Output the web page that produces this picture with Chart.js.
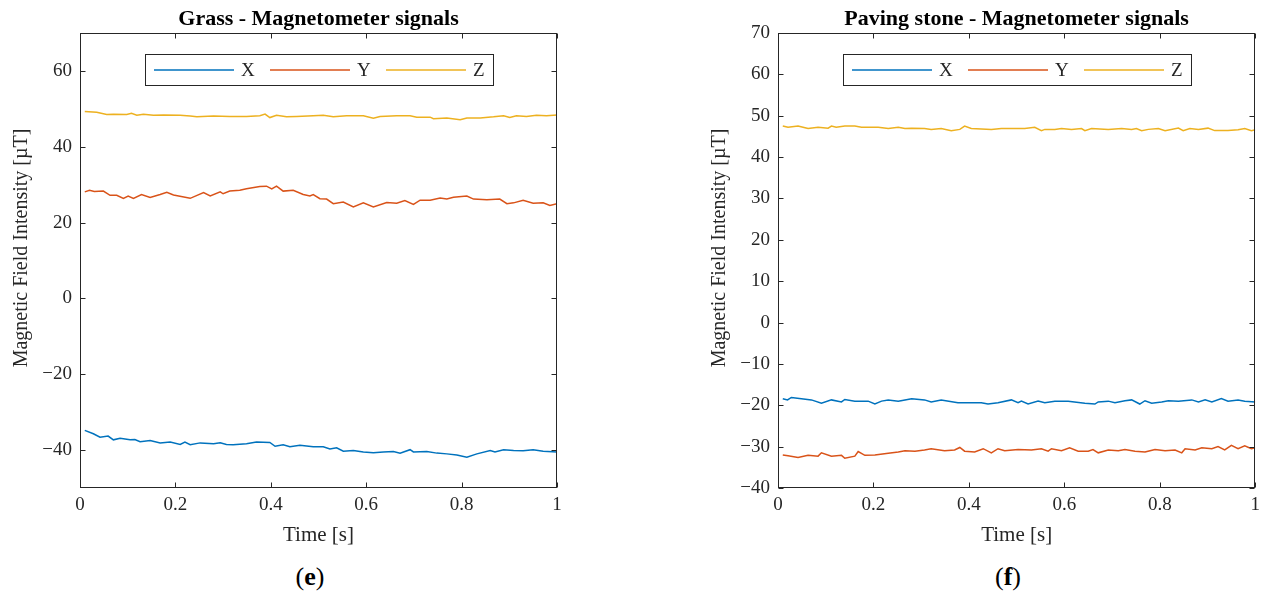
<!DOCTYPE html>
<html>
<head>
<meta charset="utf-8">
<script src="https://cdn.jsdelivr.net/npm/chart.js@4.4.1/dist/chart.umd.min.js"></script>
<style>
html, body { margin: 0; padding: 0; background: #fff; }
#wrap { position: relative; width: 1262px; height: 595px; overflow: hidden; }
.box { position: absolute; top: 0; height: 560px; }
.cap { position: absolute; top: 562px; width: 120px; text-align: center; font: 26px "Liberation Serif", serif; color: #000; }
</style>
</head>
<body>
<div id="wrap">
  <div class="box" style="left:0;width:640px"><canvas id="grass" width="640" height="560"></canvas></div>
  <div class="box" style="left:698px;width:568px"><canvas id="paving" width="568" height="560"></canvas></div>
  <div class="cap" style="left:250px">(<b>e</b>)</div>
  <div class="cap" style="left:948px">(<b>f</b>)</div>
</div>
<script>
// tick values
const timeTicks = [0, 0.2, 0.4, 0.6, 0.8, 1];
const grassTicks = [-40, -20, 0, 20, 40, 60];
const pavingTicks = [-40, -30, -20, -10, 0, 10, 20, 30, 40, 50, 60, 70];

// Grass
const grassXTime = [0.01,0.028,0.042,0.059,0.070,0.084,0.105,0.115,0.126,0.147,0.168,0.189,0.210,0.220,0.231,0.252,0.280,0.294,0.307,0.321,0.349,0.370,0.398,0.409,0.426,0.440,0.461,0.489,0.510,0.524,0.538,0.552,0.573,0.594,0.615,0.636,0.657,0.671,0.692,0.699,0.727,0.748,0.769,0.790,0.811,0.832,0.860,0.870,0.888,0.909,0.929,0.950,0.971,1.0];
const grassX = [-34.8,-35.7,-36.6,-36.3,-37.3,-36.9,-37.3,-37.2,-37.8,-37.5,-38.1,-37.9,-38.5,-37.9,-38.6,-38.1,-38.3,-38.1,-38.5,-38.6,-38.3,-37.9,-38.0,-39.0,-38.6,-39.1,-38.7,-39.1,-39.1,-39.7,-39.4,-40.3,-40.1,-40.5,-40.7,-40.5,-40.4,-40.8,-39.9,-40.5,-40.4,-40.8,-41.0,-41.3,-41.9,-41.0,-40.1,-40.5,-39.9,-40.1,-40.2,-39.9,-40.3,-40.5];

const grassYTime = [0.01,0.02,0.03,0.049,0.063,0.077,0.091,0.101,0.112,0.129,0.147,0.168,0.182,0.196,0.231,0.259,0.273,0.294,0.300,0.314,0.335,0.349,0.377,0.391,0.402,0.412,0.426,0.447,0.468,0.482,0.489,0.503,0.517,0.531,0.552,0.573,0.594,0.615,0.643,0.664,0.681,0.699,0.713,0.734,0.755,0.769,0.783,0.811,0.825,0.853,0.880,0.895,0.909,0.929,0.950,0.971,0.985,1.0];
const grassY = [28.1,28.5,28.2,28.3,27.2,27.2,26.4,27.0,26.4,27.4,26.6,27.4,28.0,27.3,26.4,27.9,27.0,28.1,27.6,28.3,28.5,28.9,29.5,29.6,28.9,29.6,28.3,28.5,27.4,27.0,27.4,26.3,26.2,25.0,25.4,24.1,25.2,24.1,25.3,25.1,25.8,24.8,25.9,25.9,26.5,26.2,26.7,27.0,26.2,26.0,26.2,25.0,25.2,25.9,25.1,25.2,24.5,25.0];

const grassZTime = [0.01,0.035,0.056,0.070,0.098,0.108,0.119,0.133,0.154,0.175,0.210,0.231,0.245,0.280,0.314,0.349,0.377,0.388,0.398,0.412,0.433,0.454,0.489,0.510,0.531,0.559,0.594,0.615,0.629,0.664,0.692,0.706,0.734,0.741,0.769,0.797,0.811,0.839,0.867,0.888,0.901,0.915,0.936,0.957,0.978,1.0];
const grassZ = [49.3,49.1,48.5,48.6,48.5,48.8,48.3,48.6,48.3,48.4,48.3,48.1,47.9,48.1,48.0,48.0,48.2,48.6,47.7,48.3,47.9,48.0,48.2,48.3,47.9,48.2,48.2,47.5,48.0,48.2,48.2,47.8,47.8,47.4,47.6,47.1,47.6,47.6,47.9,48.2,47.7,48.2,48.0,48.3,48.2,48.4];

// Paving stone
const pavingXTime = [0.01,0.02,0.028,0.049,0.070,0.091,0.112,0.133,0.140,0.161,0.189,0.203,0.217,0.231,0.252,0.266,0.280,0.307,0.321,0.342,0.377,0.405,0.426,0.440,0.461,0.489,0.503,0.510,0.524,0.545,0.559,0.580,0.608,0.643,0.664,0.671,0.692,0.706,0.727,0.741,0.758,0.769,0.783,0.804,0.818,0.839,0.867,0.881,0.895,0.909,0.929,0.943,0.964,0.978,1.0];
const pavingX = [-18.4,-18.7,-18.1,-18.4,-18.7,-19.5,-18.7,-19.2,-18.6,-19.0,-19.0,-19.7,-19.0,-18.7,-19.0,-18.7,-18.4,-18.7,-19.2,-18.7,-19.4,-19.4,-19.4,-19.7,-19.4,-18.7,-19.4,-19.0,-19.7,-19.0,-19.4,-19.0,-19.0,-19.5,-19.7,-19.2,-19.0,-19.4,-18.9,-18.7,-19.7,-18.9,-19.5,-19.2,-18.9,-19.0,-18.7,-19.2,-18.7,-19.2,-18.4,-19.0,-18.7,-19.0,-19.2];

const pavingYTime = [0.01,0.021,0.042,0.063,0.084,0.091,0.112,0.133,0.140,0.161,0.168,0.182,0.203,0.231,0.252,0.266,0.287,0.307,0.321,0.349,0.370,0.381,0.391,0.412,0.430,0.447,0.461,0.475,0.503,0.531,0.552,0.566,0.573,0.594,0.611,0.629,0.650,0.660,0.671,0.692,0.713,0.727,0.748,0.769,0.790,0.811,0.832,0.846,0.853,0.874,0.888,0.909,0.922,0.936,0.950,0.964,0.978,0.992,1.0];
const pavingY = [-32.0,-32.2,-32.6,-32.1,-32.3,-31.5,-32.3,-32.1,-32.8,-32.3,-31.2,-32.1,-32.0,-31.6,-31.3,-31.0,-31.1,-30.8,-30.5,-31.0,-30.8,-30.2,-31.1,-31.3,-30.5,-31.5,-30.5,-31.0,-30.7,-30.8,-30.5,-31.1,-30.5,-31.0,-30.3,-31.1,-31.1,-30.7,-31.5,-30.8,-31.0,-30.7,-31.1,-31.3,-30.7,-31.0,-30.8,-31.5,-30.5,-30.8,-30.3,-30.5,-30.0,-30.8,-29.7,-30.5,-29.8,-30.5,-30.3];

const pavingZTime = [0.01,0.021,0.042,0.063,0.084,0.105,0.112,0.122,0.140,0.161,0.175,0.210,0.231,0.252,0.266,0.280,0.307,0.321,0.342,0.363,0.381,0.391,0.405,0.447,0.468,0.517,0.538,0.552,0.559,0.580,0.594,0.615,0.636,0.643,0.657,0.692,0.720,0.741,0.751,0.762,0.776,0.797,0.811,0.839,0.849,0.863,0.881,0.901,0.915,0.943,0.964,0.978,0.992,1.0];
const pavingZ = [47.5,47.2,47.5,46.9,47.2,47.0,47.5,47.2,47.5,47.5,47.2,47.2,46.9,47.2,46.9,47.0,46.9,46.7,46.9,46.4,46.7,47.5,46.9,46.7,46.9,46.9,47.2,46.4,46.7,46.7,46.9,46.7,46.9,46.4,46.9,46.7,46.9,46.7,46.9,46.4,46.7,46.9,46.4,47.0,46.4,46.9,46.7,47.0,46.4,46.4,46.6,46.9,46.4,46.6];

const seriesNames = ["X", "Y", "Z"];
const seriesColors = ["#0072BD", "#D95319", "#EDB120"];

const axisColor = "#262626";
const serif = "'Liberation Serif', 'Times New Roman', serif";

function pts(t, v) {
  return t.map((x, i) => ({ x: x, y: v[i] }));
}

// frame, inward ticks and boxed legend (MATLAB look)
const matlabAxes = {
  id: "matlabAxes",
  afterDatasetsDraw(chart) {
    const ctx = chart.ctx;
    const a = chart.chartArea;
    const xs = chart.scales.x, ys = chart.scales.y;
    const L = Math.round(a.left) + 0.5, R = Math.round(a.right) - 0.5;
    const T = Math.round(a.top) + 0.5, B = Math.round(a.bottom) - 0.5;
    ctx.save();
    ctx.strokeStyle = axisColor;
    ctx.lineWidth = 1;
    ctx.strokeRect(L, T, R - L, B - T);
    ctx.beginPath();
    xs.ticks.forEach(tk => {
      const px = Math.round(xs.getPixelForValue(tk.value)) + 0.5;
      ctx.moveTo(px, B); ctx.lineTo(px, B - 5);
      ctx.moveTo(px, T); ctx.lineTo(px, T + 5);
    });
    ys.ticks.forEach(tk => {
      const py = Math.round(ys.getPixelForValue(tk.value)) + 0.5;
      ctx.moveTo(L, py); ctx.lineTo(L + 5, py);
      ctx.moveTo(R, py); ctx.lineTo(R - 5, py);
    });
    ctx.stroke();

    // legend
    const bx = Math.round(a.left) + 65.5, by = Math.round(a.top) + 21.5;
    ctx.fillStyle = "#fff";
    ctx.fillRect(bx, by, 348, 31);
    ctx.strokeStyle = axisColor;
    ctx.strokeRect(bx, by, 348, 31);
    const cy = by + 15.5;
    ctx.font = "19px " + serif;
    ctx.textBaseline = "middle";
    chart.data.datasets.forEach((ds, i) => {
      const x0 = a.left + 74 + i * 116;
      ctx.strokeStyle = ds.borderColor;
      ctx.lineWidth = 1.5;
      ctx.beginPath();
      ctx.moveTo(x0, cy); ctx.lineTo(x0 + 80, cy);
      ctx.stroke();
      ctx.fillStyle = axisColor;
      ctx.fillText(ds.label, x0 + 87, cy + 1);
    });
    ctx.restore();
  }
};

function makeChart(id, title, series, yMin, yMax, yTicks, padRight) {
  return new Chart(document.getElementById(id), {
    type: "line",
    data: {
      datasets: series.map((s, i) => ({
        label: seriesNames[i],
        data: s,
        borderColor: seriesColors[i],
        borderWidth: 1.5,
        pointRadius: 0,
        fill: false,
        tension: 0
      }))
    },
    options: {
      responsive: false,
      animation: false,
      layout: { padding: { left: 0, right: padRight, top: 0, bottom: 0 } },
      plugins: {
        legend: { display: false },
        tooltip: { enabled: false },
        title: {
          display: true,
          fullSize: false,
          text: title,
          color: "#000",
          font: { family: serif, size: 22, weight: "bold" },
          padding: { top: 6, bottom: 0.6 }
        }
      },
      scales: {
        x: {
          type: "linear",
          min: 0, max: 1,
          afterBuildTicks: s => { s.ticks = timeTicks.map(v => ({ value: v })); },
          afterFit: s => { s.height = 72; },
          grid: { display: false, drawTicks: false },
          border: { display: false },
          ticks: {
            color: axisColor,
            padding: 6,
            maxRotation: 0,
            font: { family: serif, size: 19 },
            callback: v => String(v)
          },
          title: {
            display: true,
            text: "Time [s]",
            color: axisColor,
            font: { family: serif, size: 21 },
            padding: { top: 0, bottom: 12 }
          }
        },
        y: {
          type: "linear",
          min: yMin, max: yMax,
          afterBuildTicks: s => { s.ticks = yTicks.map(v => ({ value: v })); },
          afterFit: s => { s.width = 80; },
          grid: { display: false, drawTicks: false },
          border: { display: false },
          ticks: {
            color: axisColor,
            padding: 8,
            font: { family: serif, size: 19 },
            callback: v => String(v).replace("-", "\u2212")
          },
          title: {
            display: true,
            text: "\u2003 Magnetic Field Intensity [\u00B5T]",
            color: axisColor,
            font: { family: serif, size: 20 },
            padding: { top: 10, bottom: 0 }
          }
        }
      }
    },
    plugins: [matlabAxes]
  });
}

makeChart("grass", "Grass - Magnetometer signals",
  [pts(grassXTime, grassX), pts(grassYTime, grassY), pts(grassZTime, grassZ)],
  -50, 70, grassTicks, 83);

makeChart("paving", "Paving stone - Magnetometer signals",
  [pts(pavingXTime, pavingX), pts(pavingYTime, pavingY), pts(pavingZTime, pavingZ)],
  -40, 70, pavingTicks, 0);
</script>
</body>
</html>
